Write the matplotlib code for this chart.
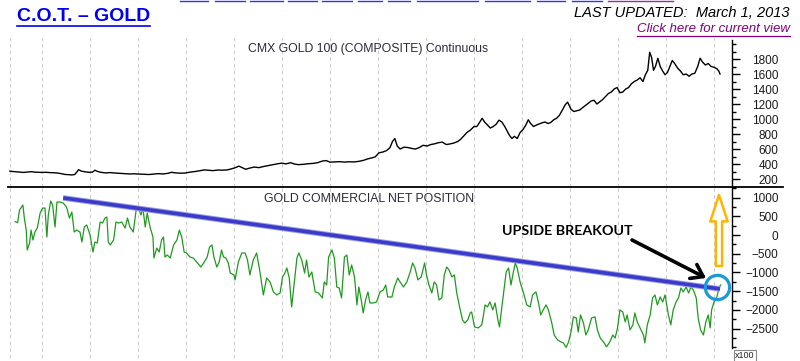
import matplotlib
matplotlib.use('Agg')
import matplotlib.pyplot as plt
from matplotlib.lines import Line2D
from matplotlib.transforms import IdentityTransform
from matplotlib.ticker import FixedLocator

plt.rcParams['font.family'] = ['Liberation Sans', 'DejaVu Sans']

# ---------------- data ----------------
gold_dates = [1998.33, 1998.40, 1998.48, 1998.55, 1998.62, 1998.70, 1998.78, 1998.85, 1998.92,
              1999.00, 1999.08, 1999.16, 1999.24, 1999.32, 1999.40, 1999.47, 1999.55, 1999.62,
              1999.68, 1999.72, 1999.76, 1999.82, 1999.90, 1999.98, 2000.05, 2000.10, 2000.14,
              2000.22, 2000.32, 2000.42, 2000.52, 2000.62, 2000.72, 2000.82, 2000.92, 2001.02,
              2001.12, 2001.22, 2001.32, 2001.42, 2001.52, 2001.62, 2001.70, 2001.78, 2001.88,
              2001.98, 2002.08, 2002.18, 2002.28, 2002.38, 2002.46, 2002.56, 2002.66, 2002.76,
              2002.86, 2002.94, 2003.02, 2003.10, 2003.16, 2003.24, 2003.32, 2003.42, 2003.52,
              2003.62, 2003.72, 2003.82, 2003.92, 2004.00, 2004.08, 2004.18, 2004.26, 2004.34,
              2004.44, 2004.54, 2004.64, 2004.74, 2004.84, 2004.92, 2005.00, 2005.10, 2005.20,
              2005.30, 2005.40, 2005.50, 2005.60, 2005.70, 2005.78, 2005.86, 2005.94, 2006.02,
              2006.10, 2006.18, 2006.25, 2006.30, 2006.35, 2006.40, 2006.46, 2006.54, 2006.62,
              2006.70, 2006.78, 2006.86, 2006.94, 2007.02, 2007.10, 2007.18, 2007.26, 2007.34,
              2007.42, 2007.50, 2007.58, 2007.66, 2007.72, 2007.78, 2007.85, 2007.92, 2008.00,
              2008.06, 2008.12, 2008.17, 2008.22, 2008.28, 2008.34, 2008.40, 2008.46, 2008.52,
              2008.58, 2008.64, 2008.69, 2008.74, 2008.79, 2008.84, 2008.90, 2008.96, 2009.02,
              2009.08, 2009.13, 2009.18, 2009.24, 2009.30, 2009.36, 2009.42, 2009.48, 2009.54,
              2009.60, 2009.66, 2009.72, 2009.78, 2009.84, 2009.90, 2009.95, 2010.02, 2010.08,
              2010.14, 2010.20, 2010.26, 2010.32, 2010.38, 2010.44, 2010.50, 2010.56, 2010.62,
              2010.68, 2010.74, 2010.80, 2010.86, 2010.92, 2010.98, 2011.04, 2011.10, 2011.16,
              2011.22, 2011.28, 2011.34, 2011.40, 2011.46, 2011.52, 2011.57, 2011.62, 2011.66,
              2011.70, 2011.74, 2011.78, 2011.83, 2011.88, 2011.93, 2011.98, 2012.03, 2012.08,
              2012.13, 2012.18, 2012.24, 2012.30, 2012.36, 2012.42, 2012.48, 2012.54, 2012.60,
              2012.66, 2012.71, 2012.76, 2012.82, 2012.88, 2012.94, 2013.00, 2013.06, 2013.10,
              2013.125]
gold_price = [305, 300, 296, 292, 288, 294, 298, 292, 290,
              288, 290, 286, 284, 280, 272, 262, 258, 255,
              260, 290, 325, 305, 296, 290, 292, 318, 305,
              290, 282, 286, 280, 276, 272, 268, 270, 266,
              264, 260, 266, 272, 268, 276, 290, 282, 278,
              280, 292, 300, 310, 322, 318, 312, 320, 318,
              322, 335, 350, 372, 355, 330, 345, 360, 352,
              368, 380, 392, 405, 412, 402, 418, 400, 392,
              396, 404, 408, 418, 440, 446, 425, 428, 432,
              426, 430, 428, 436, 450, 468, 480, 495, 550,
              560, 580, 620, 700, 740, 640, 600, 625, 620,
              608, 600, 620, 650, 640, 660, 670, 685, 692,
              660, 668, 680, 700, 730, 770, 820, 850, 900,
              900, 960, 1010, 960, 920, 880, 900, 930, 985,
              960, 900, 840, 780, 740, 770, 740, 820, 860,
              920, 990, 940, 900, 920, 935, 950, 960, 940,
              955, 990, 1010, 1050, 1120, 1190, 1225, 1130, 1100,
              1110, 1120, 1150, 1180, 1210, 1240, 1250, 1200, 1230,
              1260, 1300, 1340, 1360, 1400, 1420, 1350, 1360, 1400,
              1420, 1470, 1500, 1520, 1550, 1500, 1590, 1650, 1890,
              1820, 1650, 1700, 1810, 1700, 1640, 1590, 1620, 1700,
              1780, 1740, 1680, 1640, 1590, 1600, 1570, 1600, 1610,
              1700, 1810, 1760, 1720, 1740, 1700, 1690, 1670, 1640,
              1600]

cot_dates = [1998.44, 1998.49, 1998.53, 1998.60, 1998.63, 1998.67, 1998.69, 1998.74, 1998.77,
             1998.81, 1998.85, 1998.90, 1998.96, 1999.01, 1999.06, 1999.10, 1999.13, 1999.18,
             1999.22, 1999.27, 1999.31, 1999.38, 1999.44, 1999.51, 1999.57, 1999.62, 1999.67,
             1999.72, 1999.79, 1999.83, 1999.88, 1999.93, 2000.00, 2000.06, 2000.10, 2000.15,
             2000.21, 2000.26, 2000.31, 2000.35, 2000.38, 2000.42, 2000.49, 2000.54, 2000.59,
             2000.66, 2000.73, 2000.78, 2000.83, 2000.90, 2000.96, 2001.01, 2001.06, 2001.10,
             2001.15, 2001.19, 2001.25, 2001.31, 2001.33, 2001.39, 2001.44, 2001.49, 2001.53,
             2001.56, 2001.61, 2001.67, 2001.74, 2001.81, 2001.86, 2001.91, 2001.96, 2002.01,
             2002.08, 2002.15, 2002.22, 2002.31, 2002.38, 2002.44, 2002.49, 2002.54, 2002.58,
             2002.64, 2002.69, 2002.74, 2002.78, 2002.83, 2002.88, 2002.92, 2003.00, 2003.02,
             2003.09, 2003.16, 2003.23, 2003.28, 2003.33, 2003.40, 2003.47, 2003.54, 2003.61,
             2003.68, 2003.75, 2003.82, 2003.89, 2003.96, 2004.01, 2004.06, 2004.10, 2004.15,
             2004.20, 2004.26, 2004.31, 2004.35, 2004.41, 2004.47, 2004.51, 2004.56, 2004.62,
             2004.69, 2004.76, 2004.84, 2004.88, 2004.93, 2004.97, 2005.04, 2005.09, 2005.14,
             2005.19, 2005.24, 2005.30, 2005.35, 2005.40, 2005.45, 2005.51, 2005.56, 2005.60,
             2005.65, 2005.69, 2005.74, 2005.79, 2005.83, 2005.90, 2005.97, 2006.04, 2006.11,
             2006.16, 2006.20, 2006.29, 2006.34, 2006.41, 2006.46, 2006.53, 2006.60, 2006.67,
             2006.72, 2006.77, 2006.83, 2006.90, 2006.97, 2007.01, 2007.06, 2007.12, 2007.17,
             2007.22, 2007.27, 2007.33, 2007.38, 2007.43, 2007.48, 2007.54, 2007.59, 2007.64,
             2007.69, 2007.76, 2007.81, 2007.87, 2007.92, 2007.95, 2008.01, 2008.09, 2008.16,
             2008.18, 2008.23, 2008.28, 2008.33, 2008.39, 2008.44, 2008.49, 2008.53, 2008.58,
             2008.63, 2008.67, 2008.72, 2008.77, 2008.82, 2008.86, 2008.90, 2008.96, 2009.03,
             2009.10, 2009.17, 2009.22, 2009.29, 2009.34, 2009.39, 2009.44, 2009.50, 2009.55,
             2009.62, 2009.67, 2009.74, 2009.81, 2009.86, 2009.92, 2009.97, 2010.02, 2010.07,
             2010.13, 2010.17, 2010.22, 2010.28, 2010.33, 2010.38, 2010.45, 2010.52, 2010.57,
             2010.63, 2010.71, 2010.76, 2010.83, 2010.89, 2010.94, 2010.99, 2011.04, 2011.10,
             2011.15, 2011.19, 2011.25, 2011.31, 2011.35, 2011.40, 2011.46, 2011.53, 2011.56,
             2011.61, 2011.67, 2011.72, 2011.77, 2011.82, 2011.88, 2011.93, 2011.98, 2012.05,
             2012.10, 2012.15, 2012.21, 2012.26, 2012.31, 2012.36, 2012.42, 2012.47, 2012.52,
             2012.57, 2012.63, 2012.67, 2012.72, 2012.78, 2012.83, 2012.88, 2012.92, 2012.95,
             2013.00, 2013.06, 2013.11, 2013.14]
cot_net = [355, 330, 667, 800, 454, 133, -400, -214, 133,
           -133, 80, 187, 587, 720, 720, -53, 534, 907,
           800, 214, 880, 880, 854, 747, 454, 614, 80,
           133, 80, -187, 214, 267, 0, -454, -187, -214,
           347, 320, 454, 480, -187, -267, -133, 347, 320,
           347, 187, 454, 214, 80, 667, 720, 534, 720,
           214, 587, 214, -53, -614, -347, -454, -133, -53,
           -587, -534, -614, -267, -133, 133, -53, -454, -480,
           -587, -614, -720, -854, -720, -587, -320, -267, -587,
           -854, -720, -400, -587, -614, -747, -1014, -1067, -1200,
           -720, -480, -480, -667, -1067, -667, -480, -987, -1600,
           -1147, -1254, -1520, -1600, -1547, -1120, -1014, -880, -1147,
           -1920, -1200, -614, -480, -667, -1014, -667, -1120, -987,
           -1520, -1547, -1680, -1254, -1334, -587, -400, -614, -1387,
           -1414, -1680, -587, -534, -1067, -800, -1120, -1867, -1387,
           -1734, -2080, -1734, -1520, -1814, -1814, -1787, -1520, -1467,
           -1334, -1654, -1654, -1387, -1147, -1254, -1387, -1254, -987,
           -747, -880, -1200, -1120, -747, -1067, -1334, -1547, -1254,
           -1334, -1734, -1680, -1067, -854, -934, -1120, -1067, -1547,
           -1867, -2267, -2350, -2267, -2080, -2054, -2454, -2480, -2400,
           -2267, -1867, -1920, -1787, -2000, -1814, -2214, -2454, -1920,
           -1414, -987, -880, -1334, -987, -747, -880, -1254, -1547,
           -1867, -1920, -1600, -1520, -1787, -2134, -2000, -1867, -2000,
           -2350, -2670, -2800, -2854, -2880, -3000, -2854, -2590, -2187,
           -2214, -2590, -2134, -2350, -2670, -2534, -2214, -2187, -2534,
           -2750, -2880, -2987, -2854, -2670, -2750, -2480, -2000, -2054,
           -2320, -2134, -2534, -2400, -2080, -2320, -2480, -2670, -2880,
           -2400, -2134, -1680, -1600, -1867, -1654, -1787, -1600, -2134,
           -2400, -2000, -1787, -1680, -1414, -1520, -1387, -1547, -1387,
           -1467, -1680, -2214, -2534, -2670, -2320, -2134, -2480, -2000,
           -1787, -1654, -1387, -1334]

trend_dates = [1999.44, 2013.125]
trend_values = [990, -1440]
breakout_date = 2013.07
breakout_value = -1380

grid_dates = [1998.33] + list(range(1999, 2014))
price_ticks = [200, 400, 600, 800, 1000, 1200, 1400, 1600, 1800]
price_minor = list(range(100, 2100, 100))
cot_ticks = [1000, 500, 0, -500, -1000, -1500, -2000, -2500]
cot_minor = list(range(-3000, 1300, 250))

# ---------------- layout ----------------
W, H = 800, 361
fig = plt.figure(figsize=(8, 3.61), dpi=100)
fig.patch.set_facecolor('white')


def fx(px):
    return px / W


def fy(py):
    return 1 - py / H


L, R = 8, 732
ax1 = fig.add_axes([fx(L), fy(187), fx(R - L), (187 - 38) / H])
ax2 = fig.add_axes([fx(L), fy(358), fx(R - L), (358 - 187) / H])
xmin, xmax = 1998.29, 2013.375

for ax in (ax1, ax2):
    ax.set_xlim(xmin, xmax)
    ax.set_facecolor('none')
    for s in ('left', 'top', 'bottom'):
        ax.spines[s].set_visible(False)
    ax.spines['right'].set_linewidth(1.0)
    ax.set_xticks([])
    ax.yaxis.tick_right()
    for gd in grid_dates:
        ax.axvline(gd, color='#cccccc', lw=0.8, dashes=(3, 3), zorder=0)
    ax.tick_params(axis='y', which='major', direction='out', length=6, width=1,
                   labelsize=8.5, pad=27.5, labelcolor='#1a1a1a')
    ax.tick_params(axis='y', which='minor', direction='out', length=3, width=1)

ax1.set_ylim(94, 2080)
ax1.yaxis.set_major_locator(FixedLocator(price_ticks))
ax1.yaxis.set_minor_locator(FixedLocator(price_minor))
ax1.spines['right'].set_bounds(94, 2060)

ax2.set_ylim(-3284, 1282)
ax2.yaxis.set_major_locator(FixedLocator(cot_ticks))
ax2.yaxis.set_minor_locator(FixedLocator(cot_minor))
ax2.spines['right'].set_bounds(-3017, 1282)

for ax in (ax1, ax2):
    for t in ax.yaxis.get_major_ticks():
        t.label2.set_horizontalalignment('right')

ax1.plot(gold_dates, gold_price, color='black', lw=1.0)
ax2.plot(cot_dates, cot_net, color='#1f9a1f', lw=0.9)

# trendline
ax2.plot(trend_dates, trend_values, color='#9a9ae6', lw=4.0, solid_capstyle='butt', zorder=4)
ax2.plot(trend_dates, trend_values, color='#3b3bc9', lw=2.6, solid_capstyle='butt', zorder=5)
ax2.plot([breakout_date], [breakout_value], marker='o', ms=17.5, mfc='none',
         mec='#1b9ad8', mew=2.3, clip_on=False, zorder=6)

# panel titles
fig.text(fx(368), fy(52), 'CMX GOLD 100 (COMPOSITE) Continuous', ha='center', va='baseline',
         fontsize=8.8, color='#2a2a3a')
fig.text(fx(369), fy(202), 'GOLD COMMERCIAL NET POSITION', ha='center', va='baseline',
         fontsize=8.8, color='#2a2a3a')

# separator line
fig.add_artist(Line2D([fx(8), fx(783)], [fy(187), fy(187)], transform=fig.transFigure,
                      color='black', lw=1.3))

# header texts
t_title = fig.text(fx(17), fy(21), 'C.O.T. \u2013 GOLD', ha='left', va='baseline',
                   fontsize=14, fontweight='bold', color='#0000ee')
fig.text(fx(790), fy(17), 'LAST UPDATED:  March 1, 2013', ha='right', va='baseline',
         fontsize=10.5, fontstyle='italic', color='black')
t_click = fig.text(fx(790), fy(32), 'Click here for current view', ha='right', va='baseline',
                   fontsize=9.5, fontstyle='italic', color='#800080')

# nav link underlines at very top
nav = [(180, 208), (215, 245), (250, 283), (288, 317), (322, 352), (358, 382), (388, 410),
       (417, 478), (485, 530), (537, 565), (572, 602)]
for a, b in nav:
    fig.add_artist(Line2D([fx(a), fx(b)], [fy(1), fy(1)], transform=fig.transFigure,
                          color='#3030ff', lw=1.0))
fig.add_artist(Line2D([fx(608), fx(673)], [fy(1), fy(1)], transform=fig.transFigure,
                      color='#9030a0', lw=1.0))

# annotation
fig.text(fx(502), fy(235), 'UPSIDE BREAKOUT', ha='left', va='baseline', fontsize=10.3,
         fontweight='bold', color='black', family=['Lato', 'DejaVu Sans'])
ax2.annotate('', xy=(706, H - 278), xycoords='figure pixels',
             xytext=(632, H - 240), textcoords='figure pixels',
             arrowprops=dict(arrowstyle='->,head_length=0.5,head_width=0.35', lw=2.6,
                             color='black', mutation_scale=16, shrinkA=0, shrinkB=0))
ax2.annotate('', xy=(719, H - 195), xycoords='figure pixels',
             xytext=(719, H - 266), textcoords='figure pixels',
             arrowprops=dict(arrowstyle='simple,head_width=12.5,head_length=19,tail_width=4.5',
                             mutation_scale=1, fc='white', ec='#ffb400', lw=1.8,
                             shrinkA=0, shrinkB=0))

# x100 box
fig.text(fx(745), fy(356), 'x100', ha='center', va='center', fontsize=6.5, color='#222222',
         bbox=dict(boxstyle='square,pad=0.15', fc='white', ec='#888888', lw=0.8))

# underlines
fig.canvas.draw()
r = fig.canvas.get_renderer()
for t, col in ((t_title, '#0000ee'), (t_click, '#800080')):
    bb = t.get_window_extent(r)
    y0 = bb.y0 - 1
    fig.add_artist(Line2D([bb.x0, bb.x1], [y0, y0], transform=IdentityTransform(),
                          color=col, lw=1.2 if t is t_title else 0.9))

fig.savefig('out.png', dpi=100, facecolor='white')
